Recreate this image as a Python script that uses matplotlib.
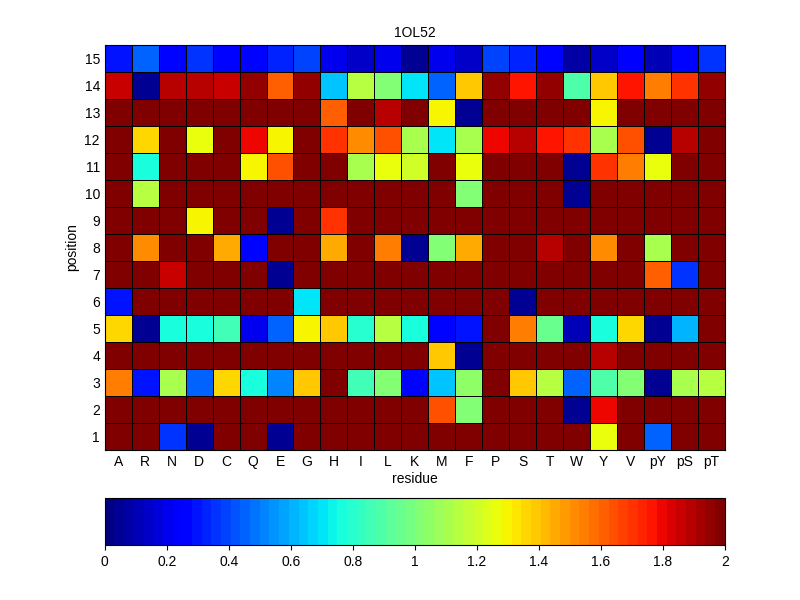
import numpy as np
import matplotlib
matplotlib.use("Agg")
import matplotlib.pyplot as plt

plt.rcParams['font.family'] = ['Liberation Sans', 'DejaVu Sans']

residues = ["A","R","N","D","C","Q","E","G","H","I","L","K","M","F","P","S","T","W","Y","V","pY","pS","pT"]
positions = list(range(1, 16))

def row(default=2.0, **kw):
    r = [default]*len(residues)
    for k, v in kw.items():
        r[residues.index(k)] = v
    return r

p15 = [0.3,0.45,0.25,0.35,0.25,0.28,0.33,0.38,0.2,0.15,0.2,0.05,0.2,0.15,0.4,0.33,0.28,0.08,0.15,0.22,0.12,0.28,0.35]
p14 = [1.85,0.05,1.9,1.9,1.85,1.95,1.6,1.95,0.65,1.15,1.0,0.7,0.45,1.4,1.95,1.75,1.95,0.9,1.4,1.75,1.55,1.7,1.95]
p13 = row(H=1.6, L=1.9, M=1.3, F=0.05, Y=1.3)
p12 = [2,1.35,2,1.25,2,1.8,1.3,2,1.7,1.5,1.65,1.1,0.7,1.1,1.8,1.9,1.75,1.7,1.1,1.65,0.05,1.9,2]
p11 = [2,0.75,2,2,2,1.3,1.65,2,2,1.1,1.25,1.2,2,1.25,2,2,2,0.05,1.7,1.55,1.25,2,2]
p10 = row(R=1.15, F=1.0, W=0.05)
p9 = row(D=1.3, E=0.05, H=1.7)
p8 = [2,1.5,2,2,1.45,0.25,2,2,1.45,2,1.55,0.05,1.0,1.45,2,2,1.9,2,1.5,2,1.1,2,2]
p7 = row(N=1.85, E=0.05, pY=1.6, pS=0.35)
p6 = row(A=0.3, G=0.7, S=0.05)
p5 = [1.35,0.05,0.75,0.75,0.85,0.2,0.45,1.3,1.4,0.8,1.15,0.75,0.25,0.3,2,1.55,0.95,0.1,0.75,1.35,0.05,0.6,2]
p4 = row(M=1.4, F=0.05, Y=1.9)
p3 = [1.55,0.3,1.1,0.45,1.35,0.75,0.5,1.4,2,0.85,1.0,0.25,0.65,1.05,2,1.4,1.15,0.45,0.9,1.0,0.05,1.1,1.15]
p2 = row(M=1.65, F=1.0, W=0.05, Y=1.8)
p1 = row(N=0.35, D=0.05, E=0.05, Y=1.25, pY=0.45)

data = np.array([p1,p2,p3,p4,p5,p6,p7,p8,p9,p10,p11,p12,p13,p14,p15])

fig = plt.figure(figsize=(8, 6), dpi=100)
ax = fig.add_axes([0.131, 0.25, 0.775, 0.675])
cmap = plt.get_cmap('jet', 64)
x = np.arange(len(residues)+1) + 0.5
y = np.arange(len(positions)+1) + 0.5
mesh = ax.pcolormesh(x, y, data, cmap=cmap, vmin=0, vmax=2, edgecolors='black', linewidth=0.5)
ax.set_xticks(np.arange(1, len(residues)+1))
ax.set_xticklabels(residues)
ax.set_yticks(positions)
ax.tick_params(length=0, labelsize=10)
ax.set_xlabel('residue', fontsize=10, labelpad=2)
ax.set_ylabel('position', fontsize=10)
ax.set_title('1OL52', fontsize=10)

cax = fig.add_axes([0.131, 0.092, 0.775, 0.078])
cb = fig.colorbar(mesh, cax=cax, orientation='horizontal', ticks=np.arange(0, 2.01, 0.2))
cb.ax.set_xticklabels(['0','0.2','0.4','0.6','0.8','1','1.2','1.4','1.6','1.8','2'])
cb.ax.tick_params(labelsize=10)
fig.savefig('out.png')
